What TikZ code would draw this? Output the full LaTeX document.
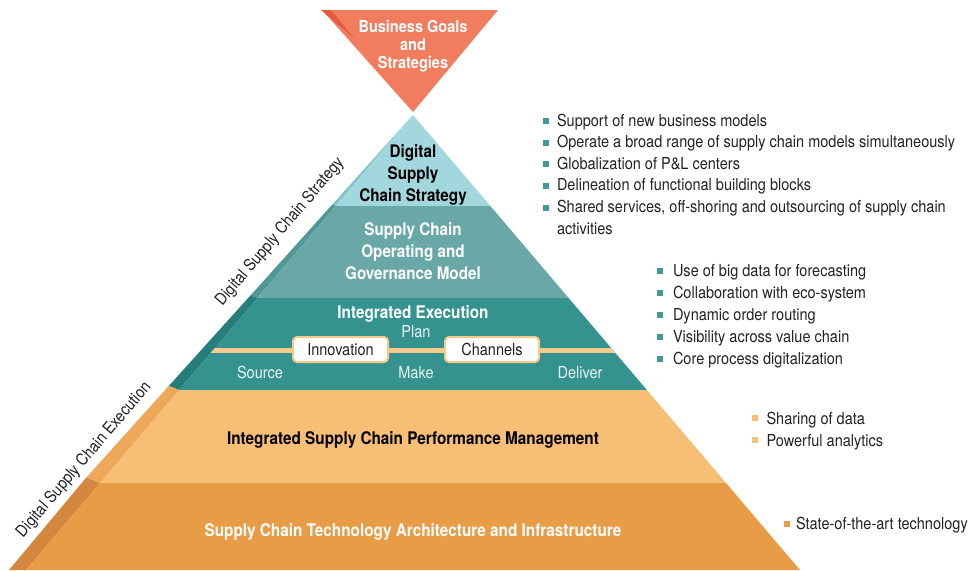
\documentclass[tikz,border=0pt]{standalone}
\usepackage{fontspec}
\setmainfont{TeX Gyre Heros}[FakeStretch=0.88]
\definecolor{goal}{HTML}{F27C5E}
\definecolor{goalside}{HTML}{E55A3C}
\definecolor{tA}{HTML}{A2D8DD}
\definecolor{tAs}{HTML}{7EC5CA}
\definecolor{tB}{HTML}{6AA8A7}
\definecolor{tBs}{HTML}{4F9896}
\definecolor{tC}{HTML}{34938F}
\definecolor{tCs}{HTML}{257E7A}
\definecolor{tD}{HTML}{F6BF75}
\definecolor{tDs}{HTML}{EEA85A}
\definecolor{tE}{HTML}{E79C45}
\definecolor{tEs}{HTML}{D3873F}
\definecolor{cream}{HTML}{F7C98C}
\definecolor{txt}{HTML}{222222}
\definecolor{lighttxt}{HTML}{EAF5F4}
\definecolor{bulteal}{HTML}{3E9B96}
\begin{document}
\begin{tikzpicture}[x=1pt,y=-1pt,
  every node/.style={inner sep=0pt, outer sep=0pt},
  base/.style={font=\fontsize{16.5}{22}\selectfont, text=txt},
  hd/.style={font=\bfseries\fontsize{#1}{22}\selectfont, anchor=base},
  hd/.default=17.3,
  item/.style={base, anchor=base west},
  bul/.style={fill=#1, minimum size=6pt},
  sbox/.style={base, draw=cream, line width=2pt, fill=white, rounded corners=4pt, minimum height=25pt},
  lbl/.style={base, rotate=49.6}
]
\useasboundingbox (0,0) rectangle (974,570);

% top inverted triangle
\fill[goal] (322,10) -- (498,10) -- (413,112) -- cycle;
\fill[goalside] (321,10) -- (331,10) -- (354,38) -- cycle;

% side faces of pyramid
\fill[tAs] (413,115) -- (335.6,206) -- (332.2,204.6) -- cycle;
\fill[tBs] (335.6,206) -- (257.4,298) -- (250.6,295.3) -- (332.2,204.6) -- cycle;
\fill[tCs] (257.4,298) -- (179.1,390) -- (168.8,385.9) -- (250.6,295.3) -- cycle;
\fill[tDs] (179.1,390) -- (100,483) -- (86.3,477.5) -- (168.8,385.9) -- cycle;
\fill[tEs] (100,483) -- (26,570) -- (9,570) -- (86.3,477.5) -- cycle;

% front tiers
\fill[tA] (413,115) -- (490.4,206) -- (335.6,206) -- cycle;
\fill[tB] (335.6,206) -- (490.4,206) -- (568.6,298) -- (257.4,298) -- cycle;
\fill[tC] (257.4,298) -- (568.6,298) -- (646.9,390) -- (179.1,390) -- cycle;
\fill[tD] (179.1,390) -- (646.9,390) -- (726,483) -- (100,483) -- cycle;
\fill[tE] (100,483) -- (726,483) -- (800,570) -- (26,570) -- cycle;

% cream line in execution tier
\begin{scope}
  \clip (257.4,298) -- (568.6,298) -- (646.9,390) -- (179.1,390) -- cycle;
  \fill[cream] (160,347.5) rectangle (670,352.5);
\end{scope}

% top triangle text
\node[hd=16.5, text=white] (g1) at (413,32.3) {Business Goals};
\node[hd=16.5, text=white] (g2) at (413,50.7) {and};
\node[hd=16.5, text=white] (g3) at (413,68.5) {Strategies};

% tier 1
\node[hd, text=black] (s1) at (413,157.7) {Digital};
\node[hd, text=black] (s2) at (413,179.3) {Supply};
\node[hd, text=black] (s3) at (413,201) {Chain Strategy};

% tier 2
\node[hd, text=white] (o1) at (413,235) {Supply Chain};
\node[hd, text=white] (o2) at (413,257.3) {Operating and};
\node[hd, text=white] (o3) at (413,279.3) {Governance Model};

% tier 3
\node[hd=17.4, text=white] (ie) at (413,318) {Integrated Execution};
\node[base, anchor=base, text=lighttxt] (plan) at (416,337) {Plan};
\node[base, anchor=base, text=lighttxt] (src) at (260,378.3) {Source};
\node[base, anchor=base, text=lighttxt] (make) at (416,378.3) {Make};
\node[base, anchor=base, text=lighttxt] (dlv) at (580,378.3) {Deliver};
\node[sbox, minimum width=95pt] (innov) at (340.5,349.5) {Innovation};
\node[sbox, minimum width=94pt] (chan) at (492,349.5) {Channels};

% tier 4 and 5
\node[hd=17.4, text=black] (pm) at (413,444) {Integrated Supply Chain Performance Management};
\node[hd=17.4, text=white] (ta) at (413,536) {Supply Chain Technology Architecture and Infrastructure};

% side labels
\node[lbl] (lstr) at (280,232) {Digital Supply Chain Strategy};
\node[lbl] (lexe) at (84,460) {Digital Supply Chain Execution};

% bullet list 1
\node[bul=bulteal] (m1) at (546,121) {};
\node[item] (i1) at (557,126) {Support of new business models};
\node[bul=bulteal] (m2) at (546,142.7) {};
\node[item] (i2) at (557,147.7) {Operate a broad range of supply chain models simultaneously};
\node[bul=bulteal] (m3) at (546,164.3) {};
\node[item] (i3) at (557,169.3) {Globalization of P\&L centers};
\node[bul=bulteal] (m4) at (546,185.7) {};
\node[item] (i4) at (557,190.7) {Delineation of functional building blocks};
\node[bul=bulteal] (m5) at (546,207.7) {};
\node[item] (i5) at (557,212.7) {Shared services, off-shoring and outsourcing of supply chain};
\node[item] (i5b) at (557,234.3) {activities};

% bullet list 2
\node[bul=bulteal] (n1) at (660,270.5) {};
\node[item] (j1) at (673,276.7) {Use of big data for forecasting};
\node[bul=bulteal] (n2) at (660,292.5) {};
\node[item] (j2) at (673,298.7) {Collaboration with eco-system};
\node[bul=bulteal] (n3) at (660,314.5) {};
\node[item] (j3) at (673,320.7) {Dynamic order routing};
\node[bul=bulteal] (n4) at (660,336.5) {};
\node[item] (j4) at (673,342.7) {Visibility across value chain};
\node[bul=bulteal] (n5) at (660,358.5) {};
\node[item] (j5) at (673,364.7) {Core process digitalization};

% bullet list 3
\node[bul=tD] (p1) at (755,418) {};
\node[item] (k1) at (766.5,424.5) {Sharing of data};
\node[bul=tD] (p2) at (755,439.5) {};
\node[item] (k2) at (766.5,446) {Powerful analytics};

% bullet list 4
\node[bul=tE] (q1) at (787,523.7) {};
\node[item] (l1) at (796,529.5) {State-of-the-art technology};
\end{tikzpicture}
\end{document}
